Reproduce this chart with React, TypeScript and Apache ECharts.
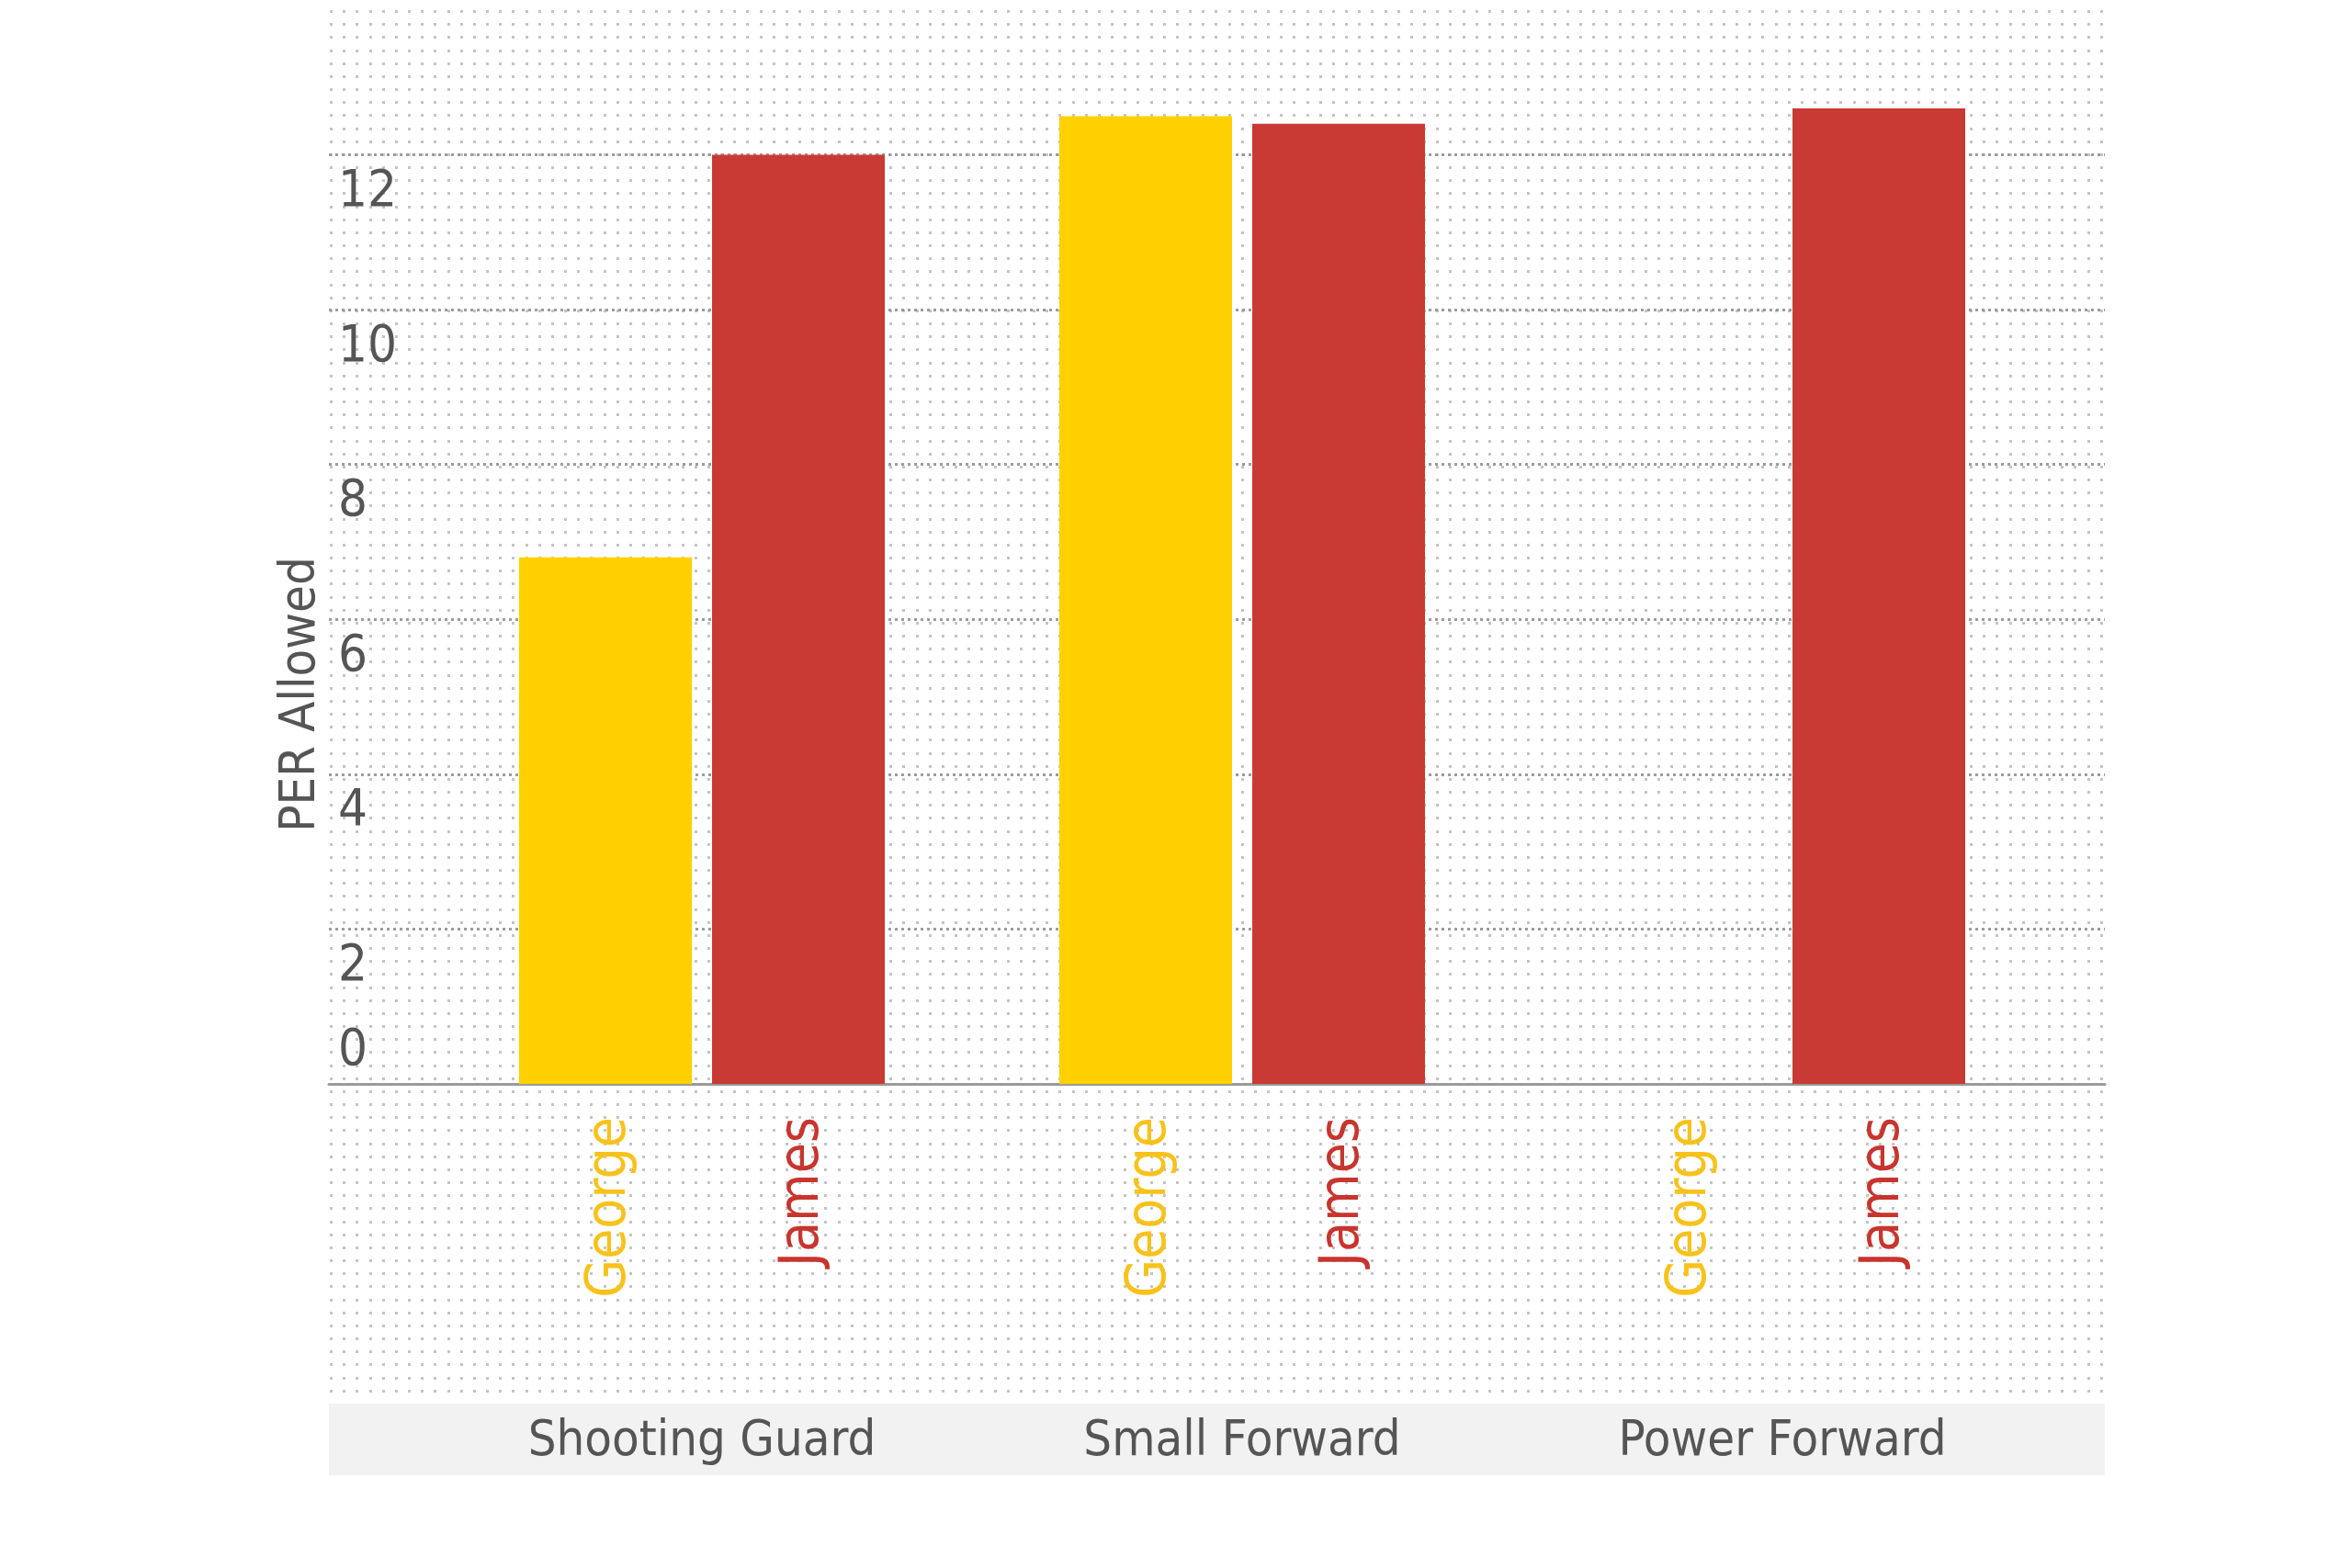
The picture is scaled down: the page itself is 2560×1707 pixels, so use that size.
import React, { useEffect, useRef } from 'react';
import * as echarts from 'echarts';

// ---- data ----
const categories = ['Shooting Guard', 'Small Forward', 'Power Forward'];
const seriesNames = ['George', 'James'];
const georgeValues = [6.8, 12.5, 0];
const jamesValues = [12.0, 12.4, 12.6];
const yMin = 0;
const yMax = 14;
const yInterval = 2;

const FONT = "'Liberation Sans Narrow', 'DejaVu Sans Condensed', 'Roboto Condensed', 'Liberation Sans', sans-serif";
const barColors = ['#FFD100', '#C93A34'];
const labelColors = ['#F9C21A', '#C8352E'];

function makeDots(): string {
  const c = document.createElement('canvas');
  c.width = 85;
  c.height = 85;
  const ctx = c.getContext('2d')!;
  ctx.fillStyle = '#c4c4c4';
  for (let i = 0; i < 6; i++) {
    for (let j = 0; j < 6; j++) {
      const x = Math.round(2 + (i * 85) / 6);
      const y = Math.round(12 + (j * 85) / 6);
      ctx.fillRect(x - 1, y - 1, 3, 3);
    }
  }
  return c.toDataURL();
}

export default function App() {
  const ref = useRef<HTMLDivElement>(null);
  useEffect(() => {
    if (!ref.current) return;
    const chart = echarts.init(ref.current, null, { renderer: 'svg' });
    const dots = makeDots();
    const values = [georgeValues, jamesValues];
    chart.setOption({
      animation: false,
      backgroundColor: '#ffffff',
      graphic: [
        {
          type: 'rect',
          x: 358,
          y: 0,
          z: -1,
          silent: true,
          shape: { x: 0, y: 0, width: 1933, height: 1520 },
          style: { fill: { image: dots, repeat: 'repeat', imageWidth: 85, imageHeight: 85 } as any },
        },
        {
          type: 'rect',
          z: -1,
          silent: true,
          shape: { x: 358, y: 1528, width: 1933, height: 78 },
          style: { fill: '#f2f2f2' },
        },
      ],
      grid: [
        { left: 358, right: 269, top: 0, height: 1180 },
        { left: 470, right: 326, top: 0, height: 1180 },
      ],
      xAxis: [
        {
          gridIndex: 0,
          type: 'value',
          min: 0,
          max: 1,
          axisLine: { show: true, onZero: false, lineStyle: { color: '#9a9a9a', width: 3 } },
          axisTick: { show: false },
          axisLabel: { show: false },
          splitLine: { show: false },
        },
        {
          gridIndex: 1,
          type: 'category',
          data: categories,
          axisLine: { show: false },
          axisTick: { show: false },
          splitLine: { show: false },
          axisLabel: {
            interval: 0,
            margin: 385,
            verticalAlign: 'middle',
            fontSize: 54,
            color: '#555555',
            fontFamily: FONT,
          },
        },
      ],
      yAxis: [
        {
          gridIndex: 0,
          type: 'value',
          position: 'left',
          min: yMin,
          max: yMax,
          interval: yInterval,
          name: 'PER Allowed',
          nameLocation: 'middle',
          nameGap: 8,
          nameTextStyle: { fontSize: 54, color: '#555555', fontFamily: FONT, padding: [0, 332, 0, 0] },
          axisLine: { show: false },
          axisTick: { show: false },
          splitLine: {
            show: true,
            showMinLine: false,
            showMaxLine: false,
            lineStyle: { color: '#9c9c9c', type: [3, 4], width: 3 },
          },
          axisLabel: {
            inside: true,
            margin: 10,
            verticalAlign: 'top',
            padding: [8, 0, 0, 0],
            fontSize: 56,
            color: '#555555',
            fontFamily: FONT,
            formatter: (v: number) => (v === yMin || v === yMax ? '' : String(v)),
          },
        },
        {
          gridIndex: 0,
          type: 'value',
          position: 'left',
          min: yMin,
          max: yMax,
          interval: yInterval,
          axisLine: { show: false },
          axisTick: { show: false },
          splitLine: { show: false },
          axisLabel: {
            inside: true,
            margin: 10,
            verticalAlign: 'bottom',
            padding: [0, 0, 13, 0],
            fontSize: 56,
            color: '#555555',
            fontFamily: FONT,
            formatter: (v: number) => (v === yMin ? String(v) : ''),
          },
        },
        {
          gridIndex: 1,
          type: 'value',
          min: yMin,
          max: yMax,
          interval: yInterval,
          show: false,
        },
      ],
      series: seriesNames.map((name, i) => ({
        type: 'bar',
        name,
        xAxisIndex: 1,
        yAxisIndex: 2,
        data: values[i],
        barWidth: 188,
        barGap: '11.7%',
        itemStyle: { color: barColors[i] },
        emphasis: { disabled: true },
        label: {
          show: true,
          position: 'bottom',
          distance: 36,
          rotate: 90,
          align: 'right',
          verticalAlign: 'middle',
          formatter: '{a}',
          color: labelColors[i],
          fontSize: 60,
          fontFamily: FONT,
        },
      })),
    });
    return () => chart.dispose();
  }, []);
  return (
    <div
      ref={ref}
      style={{ position: 'fixed', left: 0, top: 0, width: '2560px', height: '1707px' }}
    />
  );
}
